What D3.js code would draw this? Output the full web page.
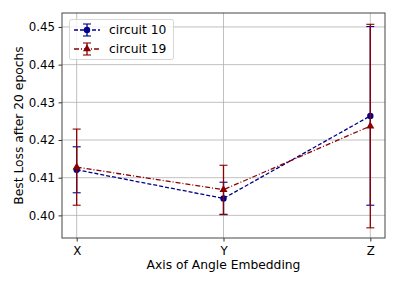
<!DOCTYPE html>
<html>
<head>
<meta charset="utf-8">
<script src="https://cdn.jsdelivr.net/npm/d3@7"></script>
<style>
  body { margin: 0; background: #fff; }
  text { font-family: "DejaVu Sans", sans-serif; fill: #000; }
</style>
</head>
<body>
<div id="chart"></div>
<script>
const width = 399,
  height = 285,
  margin = { top: 13, right: 14, bottom: 47, left: 62 };

const categories = ["X", "Y", "Z"];
const yTicks = [0.40, 0.41, 0.42, 0.43, 0.44, 0.45];

const circuit10 = [0.4121, 0.4045, 0.4264];
const circuit10Err = [0.0061, 0.0043, 0.0237];
const circuit19 = [0.4128, 0.4068, 0.4237];
const circuit19Err = [0.0101, 0.0065, 0.0270];

const series = [
  { name: "circuit 10", values: circuit10, err: circuit10Err, color: "#00008b", dash: "4,2", marker: "circle" },
  { name: "circuit 19", values: circuit19, err: circuit19Err, color: "#8b0000", dash: "5,2,1,2", marker: "triangle" },
];

const svg = d3.select("#chart").append("svg")
  .attr("width", width)
  .attr("height", height);

const xScale = d3.scaleLinear()
  .domain([-0.1, 2.1])
  .range([margin.left, width - margin.right]);

const yScale = d3.scaleLinear()
  .domain([0.394, 0.4537])
  .range([height - margin.bottom, margin.top]);

// grid
svg.append("g")
  .selectAll("line")
  .data(yTicks)
  .join("line")
  .attr("x1", margin.left)
  .attr("x2", width - margin.right)
  .attr("y1", d => yScale(d))
  .attr("y2", d => yScale(d))
  .attr("stroke", "#b0b0b0")
  .attr("stroke-width", 0.8);

svg.append("g")
  .selectAll("line")
  .data(categories)
  .join("line")
  .attr("x1", (d, i) => xScale(i))
  .attr("x2", (d, i) => xScale(i))
  .attr("y1", margin.top)
  .attr("y2", height - margin.bottom)
  .attr("stroke", "#b0b0b0")
  .attr("stroke-width", 0.8);

// axes
const xAxis = d3.axisBottom(xScale)
  .tickValues([0, 1, 2])
  .tickFormat(i => categories[i])
  .tickSize(3.5)
  .tickSizeOuter(0);

const yAxis = d3.axisLeft(yScale)
  .tickValues(yTicks)
  .tickFormat(d3.format(".2f"))
  .tickSize(3.5)
  .tickSizeOuter(0);

const gx = svg.append("g")
  .attr("transform", `translate(0,${height - margin.bottom})`)
  .call(xAxis);
gx.select(".domain").remove();
gx.selectAll(".tick line").attr("stroke", "#333");
gx.selectAll(".tick text").attr("font-size", 11.8).attr("dy", "0.85em");

const gy = svg.append("g")
  .attr("transform", `translate(${margin.left},0)`)
  .call(yAxis);
gy.select(".domain").remove();
gy.selectAll(".tick line").attr("stroke", "#333");
gy.selectAll(".tick text").attr("font-size", 11.8).attr("dx", "-0.05em");

svg.append("rect")
  .attr("x", margin.left)
  .attr("y", margin.top)
  .attr("width", width - margin.left - margin.right)
  .attr("height", height - margin.top - margin.bottom)
  .attr("fill", "none")
  .attr("stroke", "#444")
  .attr("stroke-width", 1);

svg.append("text")
  .attr("x", xScale(1))
  .attr("y", 269)
  .attr("text-anchor", "middle")
  .attr("font-size", 12.3)
  .text("Axis of Angle Embedding");

svg.append("text")
  .attr("transform", `translate(23,${(margin.top + height - margin.bottom) / 2}) rotate(-90)`)
  .attr("text-anchor", "middle")
  .attr("font-size", 12.3)
  .text("Best Loss after 20 epochs");

const line = d3.line()
  .x((d, i) => xScale(i))
  .y(d => yScale(d));

const triangle = d3.symbol().type(d3.symbolTriangle).size(28);

series.forEach(s => {
  const g = svg.append("g");
  // error bars
  s.values.forEach((v, i) => {
    const x = xScale(i);
    const y0 = yScale(v - s.err[i]);
    const y1 = yScale(v + s.err[i]);
    g.append("line").attr("x1", x).attr("x2", x).attr("y1", y0).attr("y2", y1)
      .attr("stroke", s.color).attr("stroke-width", 1.3);
    [y0, y1].forEach(y => {
      g.append("line").attr("x1", x - 4).attr("x2", x + 4).attr("y1", y).attr("y2", y)
        .attr("stroke", s.color).attr("stroke-width", 1.1);
    });
  });
  g.append("path")
    .datum(s.values)
    .attr("d", line)
    .attr("fill", "none")
    .attr("stroke", s.color)
    .attr("stroke-width", 1.3)
    .attr("stroke-dasharray", s.dash);
  s.values.forEach((v, i) => {
    if (s.marker === "circle") {
      g.append("circle").attr("cx", xScale(i)).attr("cy", yScale(v)).attr("r", 3.2).attr("fill", s.color);
    } else {
      g.append("path").attr("d", triangle)
        .attr("transform", `translate(${xScale(i)},${yScale(v)})`)
        .attr("fill", s.color);
    }
  });
});

// legend
const legend = svg.append("g");
legend.append("rect")
  .attr("x", 69.5).attr("y", 19.5)
  .attr("width", 104).attr("height", 40)
  .attr("rx", 2)
  .attr("fill", "rgba(255,255,255,0.8)")
  .attr("stroke", "#ccc")
  .attr("stroke-width", 0.8);

series.forEach((s, k) => {
  const cy = 30 + k * 19;
  const lx0 = 74, lx1 = 100, cx = 87;
  legend.append("line").attr("x1", lx0).attr("x2", lx1).attr("y1", cy).attr("y2", cy)
    .attr("stroke", s.color).attr("stroke-width", 1.3).attr("stroke-dasharray", s.dash);
  legend.append("line").attr("x1", cx).attr("x2", cx).attr("y1", cy - 6).attr("y2", cy + 6)
    .attr("stroke", s.color).attr("stroke-width", 1.3);
  [cy - 6, cy + 6].forEach(y => {
    legend.append("line").attr("x1", cx - 4).attr("x2", cx + 4).attr("y1", y).attr("y2", y)
      .attr("stroke", s.color).attr("stroke-width", 1.1);
  });
  if (s.marker === "circle") {
    legend.append("circle").attr("cx", cx).attr("cy", cy).attr("r", 3.2).attr("fill", s.color);
  } else {
    legend.append("path").attr("d", triangle).attr("transform", `translate(${cx},${cy})`).attr("fill", s.color);
  }
  legend.append("text")
    .attr("x", 109).attr("y", cy)
    .attr("dy", "0.35em")
    .attr("font-size", 12.3)
    .text(s.name);
});
</script>
</body>
</html>
